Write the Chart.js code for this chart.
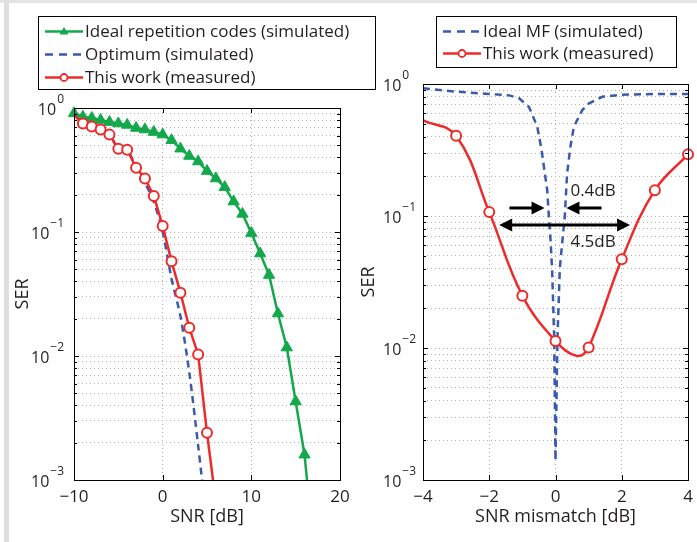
<!DOCTYPE html>
<html>
<head>
<meta charset="utf-8">
<script src="https://cdn.jsdelivr.net/npm/chart.js@4.4.1/dist/chart.umd.min.js"></script>
<style>
  html, body { margin: 0; padding: 0; background: #fff; }
  #wrap { position: relative; width: 697px; height: 542px; overflow: hidden; background: #fff; }
  #wrap canvas { position: absolute; left: 0; top: 0; }
  .edgeTop { position: absolute; left: 0; top: 0; width: 697px; height: 3px; background: #e4e4e4; }
  .edgeLeft { position: absolute; left: 4px; top: 0; width: 5px; height: 542px; background: #dedede; }
</style>
</head>
<body>
<div id="wrap">
  <div class="edgeTop"></div>
  <div class="edgeLeft"></div>
  <canvas id="leftChart" width="697" height="542"></canvas>
  <canvas id="rightChart" width="697" height="542"></canvas>
</div>
<script>
// ---- left panel: SER vs SNR ----
const snrRep = [-10, -9, -8, -7, -6, -5, -4, -3, -2, -1, 0, 1, 2, 3, 4, 5, 6, 7, 8, 9, 10, 11, 12, 13, 14, 15, 16, 17]
const serRep = [0.905, 0.85, 0.83, 0.80, 0.77, 0.75, 0.73, 0.69, 0.67, 0.64, 0.61, 0.55, 0.47, 0.41, 0.37, 0.31,
                0.27, 0.23, 0.176, 0.14, 0.098, 0.067, 0.045, 0.022, 0.0117, 0.0043, 0.0016, 0.0003]
const snrOpt = [-10, -9, -8, -7, -6, -5, -4, -3, -2, -1, 0, 1, 2, 3, 4, 5]
const serOpt = [0.88, 0.75, 0.71, 0.67, 0.61, 0.47, 0.46, 0.33, 0.25, 0.175, 0.1, 0.042, 0.021, 0.0074, 0.0019, 0.00044]
const snrMeas = [-10, -9, -8, -7, -6, -5, -4, -3, -2, -1, 0, 1, 2, 3, 4, 5, 6]
const serMeas = [0.88, 0.75, 0.71, 0.67, 0.61, 0.47, 0.46, 0.33, 0.27, 0.195, 0.112, 0.058, 0.0324, 0.0169, 0.0103, 0.0024, 0.00066]

// ---- right panel: SER vs SNR mismatch ----
const mmMF = [-4, -3, -2, -1.4, -1.1, -0.8, -0.55, -0.42, -0.35, -0.25, -0.2, -0.15, -0.1, -0.04, 0,
              0.06, 0.13, 0.18, 0.28, 0.35, 0.45, 0.555, 0.81, 1.0, 1.41, 2.02, 3, 4]
const serMF = [0.93, 0.875, 0.84, 0.82, 0.78, 0.67, 0.475, 0.316, 0.236, 0.157, 0.099, 0.066, 0.038, 0.012, 0.0014,
               0.012, 0.04, 0.055, 0.099, 0.21, 0.335, 0.475, 0.635, 0.71, 0.80, 0.83, 0.84, 0.84]
// fitted curve through the measured points (markers at whole dB only)
const mmMeas = [-4, -3, -2, -1, 0, 0.65, 1, 2, 3, 4]
const serMeasMM = [0.53, 0.406, 0.107, 0.0249, 0.0113, 0.0087, 0.0101, 0.047, 0.157, 0.293]

// ticks / labels
const decades = [1e-3, 1e-2, 1e-1, 1]
const leftXTicks = [-10, 0, 10, 20]
const rightXTicks = [-4, -2, 0, 2, 4]

// arrows in data space: [x from, x to, y, double headed]
const arrows = [
  [-1.39, -0.33, 0.115, false],
  [1.39, 0.33, 0.115, false],
  [-1.7, 2.25, 0.0855, true]
]
const notes = [
  ['0.4dB', 0.45, 0.153],
  ['4.5dB', 0.45, 0.0635]
]

const GREEN = '#12a84b'
const BLUE = '#3a5aae'
const RED = '#ee2a2a'
const INK = '#231f20'
const FONT = '"Open Sans", "Noto Sans", sans-serif'

const pts = (xs, ys) => xs.map((x, i) => ({ x: x, y: ys[i] }))

// log ticks 1..9 x 10^k
function logTicks(scale) {
  const t = []
  for (let d = 0; d < decades.length; d++) {
    const base = decades[d]
    if (d === decades.length - 1) { t.push({ value: base, major: true }); break }
    for (let s = 1; s <= 9; s++) t.push({ value: base * s, major: s === 1 })
  }
  scale.ticks = t
}

function linTicks(list) {
  return function(scale) { scale.ticks = list.map(v => ({ value: v })) }
}

const fmtNum = v => (v < 0 ? '\u2212' + Math.abs(v) : String(v))

function drawLegendRow(ctx, y, x0, x1, color, dash, marker) {
  ctx.save()
  ctx.strokeStyle = color
  ctx.lineWidth = 2.5
  ctx.setLineDash(dash || [])
  ctx.beginPath(); ctx.moveTo(x0, y); ctx.lineTo(x1, y); ctx.stroke()
  ctx.setLineDash([])
  const cx = (x0 + x1) / 2
  if (marker === 'tri') {
    ctx.fillStyle = color
    ctx.beginPath()
    ctx.moveTo(cx, y - 4.5); ctx.lineTo(cx + 4.5, y + 3); ctx.lineTo(cx - 4.5, y + 3)
    ctx.closePath(); ctx.fill()
  } else if (marker === 'circ') {
    ctx.fillStyle = '#fff'
    ctx.lineWidth = 1.8
    ctx.beginPath(); ctx.arc(cx, y, 3.5, 0, Math.PI * 2); ctx.fill(); ctx.stroke()
  }
  ctx.restore()
}

// axes box, ticks inside, labels, titles, legend
function framePlugin(cfg) {
  return {
    id: 'frame',
    afterDraw(chart) {
      const ctx = chart.ctx
      const a = chart.chartArea
      const xs = chart.scales.x
      const ys = chart.scales.y
      ctx.save()
      // box
      ctx.strokeStyle = '#000'
      ctx.lineWidth = 1
      ctx.strokeRect(Math.round(a.left) + 0.5, Math.round(a.top) + 0.5,
                     Math.round(a.right - a.left), Math.round(a.bottom - a.top))
      // inner ticks
      ctx.beginPath()
      ys.ticks.forEach(t => {
        const py = Math.round(ys.getPixelForValue(t.value)) + 0.5
        const len = t.major ? 5 : 3
        ctx.moveTo(a.left, py); ctx.lineTo(a.left + len, py)
        ctx.moveTo(a.right, py); ctx.lineTo(a.right - len, py)
      })
      xs.ticks.forEach(t => {
        const px = Math.round(xs.getPixelForValue(t.value)) + 0.5
        ctx.moveTo(px, a.bottom); ctx.lineTo(px, a.bottom - 5)
        ctx.moveTo(px, a.top); ctx.lineTo(px, a.top + 5)
      })
      ctx.stroke()

      ctx.fillStyle = INK
      // y labels 10^k
      ys.ticks.filter(t => t.major).forEach(t => {
        const py = ys.getPixelForValue(t.value)
        const e = Math.round(Math.log10(t.value))
        const exp = e < 0 ? '\u2212' + Math.abs(e) : String(e)
        ctx.font = '16px ' + FONT
        const wb = ctx.measureText('10').width
        ctx.font = '12px ' + FONT
        const we = ctx.measureText(exp).width
        let x0 = cfg.yLabelAlign === 'right' ? cfg.yLabelX - wb - we - 1 : cfg.yLabelX
        ctx.textBaseline = 'middle'
        ctx.textAlign = 'left'
        ctx.font = '16px ' + FONT
        ctx.fillText('10', x0, py + 2)
        ctx.font = '12px ' + FONT
        ctx.fillText(exp, x0 + wb + 1, py - 8)
      })
      // x labels
      ctx.font = '17px ' + FONT
      ctx.textAlign = 'center'
      ctx.textBaseline = 'middle'
      xs.ticks.forEach(t => {
        ctx.fillText(fmtNum(t.value), xs.getPixelForValue(t.value), a.bottom + 17)
      })
      // titles
      ctx.font = '18px ' + FONT
      ctx.fillText(cfg.xTitle, (a.left + a.right) / 2, a.bottom + 37)
      ctx.save()
      ctx.translate(cfg.yTitleX, (a.top + a.bottom) / 2)
      ctx.rotate(-Math.PI / 2)
      ctx.fillText('SER', 0, 0)
      ctx.restore()

      // legend
      const L = cfg.legend
      ctx.fillStyle = '#fff'
      ctx.fillRect(L.x, L.y, L.w, L.h)
      ctx.strokeStyle = '#000'
      ctx.lineWidth = 1
      ctx.strokeRect(L.x + 0.5, L.y + 0.5, L.w, L.h)
      L.rows.forEach((r, i) => {
        const ry = L.y + L.first + i * L.step
        drawLegendRow(ctx, ry, L.x + 7, L.x + L.lineW, r.color, r.dash, r.marker)
        ctx.fillStyle = INK
        ctx.font = '17px ' + FONT
        ctx.textAlign = 'left'
        ctx.textBaseline = 'middle'
        ctx.fillText(r.text, L.x + L.lineW + 2, ry + 1)
      })
      ctx.restore()
    }
  }
}

const arrowPlugin = {
  id: 'arrows',
  afterDatasetsDraw(chart) {
    const ctx = chart.ctx
    const xs = chart.scales.x
    const ys = chart.scales.y
    ctx.save()
    ctx.strokeStyle = '#000'
    ctx.fillStyle = '#000'
    ctx.lineWidth = 3
    const head = (tipX, y, dir) => {
      ctx.beginPath()
      ctx.moveTo(tipX, y)
      ctx.lineTo(tipX - dir * 13, y - 6.5)
      ctx.lineTo(tipX - dir * 13, y + 6.5)
      ctx.closePath(); ctx.fill()
    }
    arrows.forEach(([x0, x1, yv, both]) => {
      const p0 = xs.getPixelForValue(x0)
      const p1 = xs.getPixelForValue(x1)
      const py = ys.getPixelForValue(yv)
      const dir = p1 > p0 ? 1 : -1
      ctx.beginPath()
      ctx.moveTo(both ? p0 + dir * 10 : p0, py)
      ctx.lineTo(p1 - dir * 10, py)
      ctx.stroke()
      head(p1, py, dir)
      if (both) head(p0, py, -dir)
    })
    ctx.font = '17px ' + FONT
    ctx.textAlign = 'left'
    ctx.textBaseline = 'middle'
    ctx.fillStyle = INK
    notes.forEach(([t, x, y]) => {
      ctx.fillText(t, xs.getPixelForValue(x), ys.getPixelForValue(y))
    })
    ctx.restore()
  }
}

function gridOpts() {
  return {
    color: '#b4b4b4',
    lineWidth: 1,
    drawTicks: false
  }
}

function baseOptions(area, xMin, xMax, xTickList) {
  return {
    responsive: false,
    animation: false,
    events: [],
    layout: { padding: { left: 0, top: area.top, right: 697 - area.right, bottom: 0 } },
    plugins: { legend: { display: false }, tooltip: { enabled: false } },
    scales: {
      x: {
        type: 'linear',
        min: xMin,
        max: xMax,
        afterBuildTicks: linTicks(xTickList),
        afterFit(s) { s.height = 542 - area.bottom },
        ticks: { display: false },
        grid: gridOpts(),
        border: { display: false, dash: [1, 3] }
      },
      y: {
        type: 'logarithmic',
        min: 1e-3,
        max: 1,
        afterBuildTicks: logTicks,
        afterFit(s) { s.width = area.left },
        ticks: { display: false },
        grid: gridOpts(),
        border: { display: false, dash: [1, 3] }
      }
    }
  }
}

// ---- left chart ----
const leftArea = { left: 74, right: 340, top: 108, bottom: 480 }
new Chart(document.getElementById('leftChart'), {
  type: 'line',
  data: {
    datasets: [
      {
        label: 'This work (measured)',
        data: pts(snrMeas, serMeas),
        borderColor: RED,
        borderWidth: 2.5,
        pointStyle: 'circle',
        pointRadius: ctx => (ctx.dataIndex === 0 ? 0 : 5),
        pointBorderWidth: 2,
        pointBorderColor: RED,
        pointBackgroundColor: '#fff',
        tension: 0,
        clip: { left: 8, right: 8, top: 8, bottom: 0 }
      },
      {
        label: 'Ideal repetition codes (simulated)',
        data: pts(snrRep, serRep),
        borderColor: GREEN,
        borderWidth: 2.5,
        pointStyle: 'triangle',
        pointRadius: 6.5,
        pointBorderWidth: 1,
        pointBorderColor: GREEN,
        pointBackgroundColor: GREEN,
        tension: 0,
        clip: { left: 8, right: 8, top: 8, bottom: 0 }
      },
      {
        label: 'Optimum (simulated)',
        data: pts(snrOpt, serOpt),
        borderColor: BLUE,
        borderWidth: 2.5,
        borderDash: [7, 5],
        pointRadius: 0,
        tension: 0.3,
        clip: { left: 8, right: 8, top: 8, bottom: 0 }
      }
    ]
  },
  options: baseOptions(leftArea, -10, 20, leftXTicks),
  plugins: [framePlugin({
    xTitle: 'SNR [dB]',
    yTitleX: 23,
    yLabelAlign: 'right',
    yLabelX: 64,
    legend: {
      x: 38, y: 16, w: 337, h: 73, first: 15.5, step: 23, lineW: 45,
      rows: [
        { text: 'Ideal repetition codes (simulated)', color: GREEN, marker: 'tri' },
        { text: 'Optimum (simulated)', color: BLUE, dash: [8, 6] },
        { text: 'This work (measured)', color: RED, marker: 'circ' }
      ]
    }
  })]
})

// ---- right chart ----
const rightArea = { left: 423, right: 688, top: 84, bottom: 480 }
new Chart(document.getElementById('rightChart'), {
  type: 'line',
  data: {
    datasets: [
      {
        label: 'This work (measured)',
        data: pts(mmMeas, serMeasMM),
        borderColor: RED,
        borderWidth: 2.5,
        pointStyle: 'circle',
        pointRadius: ctx => {
          const x = mmMeas[ctx.dataIndex]
          return Number.isInteger(x) && x > -4 ? 5 : 0
        },
        pointBorderWidth: 2,
        pointBorderColor: RED,
        pointBackgroundColor: '#fff',
        tension: 0.4,
        clip: { left: 8, right: 8, top: 8, bottom: 0 }
      },
      {
        label: 'Ideal MF (simulated)',
        data: pts(mmMF, serMF),
        borderColor: BLUE,
        borderWidth: 2.5,
        borderDash: [7, 5],
        pointRadius: 0,
        tension: 0,
        clip: { left: 8, right: 8, top: 8, bottom: 0 }
      }
    ]
  },
  options: baseOptions(rightArea, -4, 4, rightXTicks),
  plugins: [arrowPlugin, framePlugin({
    xTitle: 'SNR mismatch [dB]',
    yTitleX: 369,
    yLabelAlign: 'left',
    yLabelX: 383,
    legend: {
      x: 436, y: 16, w: 240, h: 51, first: 15.5, step: 22, lineW: 45,
      rows: [
        { text: 'Ideal MF (simulated)', color: BLUE, dash: [8, 6] },
        { text: 'This work (measured)', color: RED, marker: 'circ' }
      ]
    }
  })]
})
</script>
</body>
</html>
